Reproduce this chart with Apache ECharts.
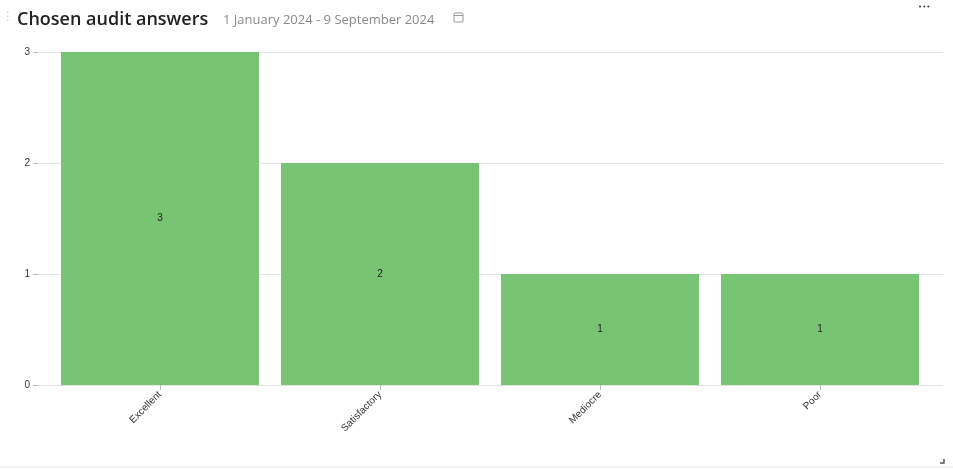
<!DOCTYPE html>
<html><head><meta charset="utf-8">
<script src="https://cdn.jsdelivr.net/npm/echarts@6/dist/echarts.min.js"></script>
<style>html,body{margin:0;padding:0;background:#fff}#c{width:953px;height:469px}</style>
</head><body><div id="c"></div>
<script>
const categories = ['Excellent', 'Satisfactory', 'Mediocre', 'Poor'];
const counts = [3, 2, 1, 1];
const yTicks = [0, 1, 2, 3];
const titleText = 'Chosen audit answers';
const dateText = '1 January 2024 - 9 September 2024';

const chart = echarts.init(document.getElementById('c'));
chart.setOption({
  animation: false,
  title: [
    {text: titleText, left: 12, top: 6, textStyle: {fontFamily: 'Open Sans', fontSize: 18, fontWeight: 600, color: '#222'}},
    {text: dateText + '  \u{1F4C5}'.slice(0,0), left: 218, top: 9, textStyle: {fontFamily: 'Open Sans', fontSize: 13, fontWeight: 'normal', color: '#8a8a8a'}}
  ],
  graphic: [
    {type: 'rect', shape: {x: 454, y: 13, width: 9, height: 9, r: 1}, style: {fill: 'none', stroke: '#999', lineWidth: 1}},
    {type: 'line', shape: {x1: 454, y1: 15.5, x2: 463, y2: 15.5}, style: {stroke: '#999', lineWidth: 1}},
    {type: 'text', left: 918, top: 4, style: {text: '•••', fontSize: 7, fill: '#444', fontFamily: 'DejaVu Sans'}},
    {type: 'text', left: 2, top: 11, style: {text: '⋮⋮', fontSize: 12, fill: '#ccc', fontFamily: 'DejaVu Sans'}},
    {type: 'line', shape: {x1: 0, y1: 467, x2: 953, y2: 467}, style: {stroke: '#e6e6e6', lineWidth: 1}},
    {type: 'polyline', shape: {points: [[944, 459], [944, 463], [940, 463]]}, style: {stroke: '#555', lineWidth: 1.5, fill: 'none'}}
  ],
  grid: [
    {left: 38, right: 10, top: 52, bottom: 84},
    {left: 50, right: 23, top: 52, bottom: 84}
  ],
  xAxis: [
    {type: 'value', gridIndex: 0, show: false, min: 0, max: 1},
    {type: 'category', gridIndex: 1, data: categories,
     axisLine: {show: false},
     axisTick: {show: true, alignWithLabel: true, length: 5, lineStyle: {color: '#bbb'}},
     axisLabel: {rotate: 45, fontSize: 10, color: '#333', fontFamily: 'Liberation Sans', margin: 8}}
  ],
  yAxis: [
    {type: 'value', gridIndex: 0, min: 0, max: 3, interval: 1,
     axisLine: {show: false},
     axisTick: {show: true, length: 5, lineStyle: {color: '#bbb'}},
     axisLabel: {fontSize: 10, color: '#333', fontFamily: 'Liberation Sans', margin: 8},
     splitLine: {lineStyle: {color: '#e3e3e3'}}},
    {type: 'value', gridIndex: 1, min: 0, max: 3, interval: 1, show: false, splitLine: {show: false}}
  ],
  series: [{
    type: 'bar', xAxisIndex: 1, yAxisIndex: 1, data: counts,
    barCategoryGap: '10%',
    itemStyle: {color: '#76c474'},
    label: {show: true, position: 'inside', fontSize: 10, color: '#222', fontFamily: 'Liberation Sans'}
  }]
});
</script></body></html>
